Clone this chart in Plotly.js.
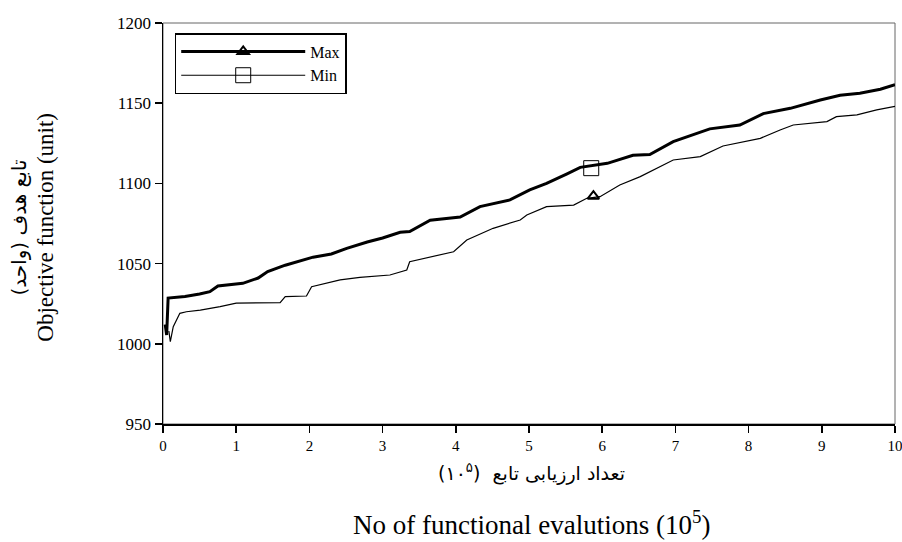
<!DOCTYPE html>
<html>
<head>
<meta charset="utf-8">
<script src="https://cdn.plot.ly/plotly-3.0.1.min.js"></script>
<style>html,body{margin:0;padding:0;background:#fff}#chart{width:902px;height:542px}</style>
</head>
<body>
<div id="chart"></div>
<script>
var maxX = [0.03, 0.05, 0.07, 0.3, 0.5, 0.64, 0.75, 1.09, 1.3, 1.43, 1.67, 2.05, 2.3, 2.51, 2.79, 3.0, 3.24, 3.37, 3.65, 4.06, 4.33, 4.74, 5.01, 5.24, 5.52, 5.70, 6.07, 6.42, 6.65, 6.97, 7.47, 7.88, 8.2, 8.57, 8.98, 9.25, 9.52, 9.8, 10];
var maxY = [1012, 1005.5, 1028.5, 1029.5, 1031, 1032.5, 1036, 1037.7, 1041, 1045, 1049, 1054, 1056, 1059.5, 1063.5, 1066, 1069.5, 1070, 1077, 1079, 1085.5, 1089.7, 1096, 1100, 1106, 1110, 1112.5, 1117.5, 1118, 1126, 1134, 1136.4, 1143.5, 1146.8, 1152, 1155, 1156.2, 1158.7, 1161.5];
var minX = [0.08, 0.1, 0.14, 0.23, 0.32, 0.51, 0.78, 1.0, 1.6, 1.67, 1.96, 2.03, 2.42, 2.69, 3.1, 3.33, 3.37, 3.65, 3.97, 4.15, 4.51, 4.88, 4.97, 5.24, 5.61, 5.79, 5.97, 6.24, 6.52, 6.97, 7.34, 7.65, 8.16, 8.43, 8.61, 9.07, 9.2, 9.48, 9.75, 10];
var minY = [1008, 1001.3, 1010.7, 1019, 1020, 1021, 1023.2, 1025.3, 1025.7, 1029.4, 1029.8, 1035.6, 1039.8, 1041.4, 1042.9, 1046, 1051.2, 1054.3, 1057.4, 1064.7, 1072, 1077.2, 1080.3, 1085.5, 1086.5, 1090.7, 1091.7, 1099, 1104.2, 1114.6, 1116.7, 1123.3, 1128.1, 1133.3, 1136.4, 1138.5, 1141.6, 1142.7, 1145.8, 1148];
// single marker positions as drawn in the figure
var maxMarkerX = [5.88];
var maxMarkerY = [1092];
var minMarkerX = [5.85];
var minMarkerY = [1109.5];
var seriesNames = ['Max', 'Min'];
var xTicks = [0,1,2,3,4,5,6,7,8,9,10];
var yTicks = [950,1000,1050,1100,1150,1200];
var xTitleFa = 'تعداد ارزیابی تابع  (۱۰<sup>۵</sup>)';
var xTitleEn = 'No of functional evalutions (10<sup>5</sup>)';
var yTitleFa = 'تابع هدف (واحد)';
var yTitleEn = 'Objective function (unit)';

var serif = 'Liberation Serif, Times New Roman, serif';
var arabic = 'DejaVu Sans, Noto Sans, sans-serif';
var traces = [
  {x: maxX, y: maxY, mode: 'lines', line: {color: '#000', width: 3}, showlegend: false, hoverinfo: 'skip'},
  {x: minX, y: minY, mode: 'lines', line: {color: '#000', width: 1.2}, showlegend: false, hoverinfo: 'skip'},
  {x: maxMarkerX, y: maxMarkerY, name: seriesNames[0], mode: 'lines+markers',
   line: {color: '#000', width: 3},
   marker: {symbol: 'triangle-up-open', size: 10, color: '#000', line: {width: 2, color: '#000'}}},
  {x: minMarkerX, y: minMarkerY, name: seriesNames[1], mode: 'lines+markers',
   line: {color: '#000', width: 1.2},
   marker: {symbol: 'square-open', size: 15, color: '#000', line: {width: 1, color: '#000'}}}
];

var layout = {
  width: 902, height: 542,
  margin: {l: 163, r: 7, t: 23, b: 118},
  paper_bgcolor: '#fff', plot_bgcolor: '#fff',
  font: {family: serif, color: '#000', size: 16},
  showlegend: true,
  legend: {x: 0.016, y: 0.975, xanchor: 'left', yanchor: 'top',
    bgcolor: '#fff', bordercolor: '#000', borderwidth: 1.5,
    font: {family: serif, size: 16, color: '#000'}, itemwidth: 124, tracegroupgap: 0},
  xaxis: {range: [0, 10], tickvals: xTicks, ticktext: xTicks.map(String),
    showgrid: false, zeroline: false, showline: true, linecolor: '#000', linewidth: 1.5,
    ticks: 'outside', ticklen: 7, tickwidth: 1.5, tickcolor: '#000',
    ticklabeloverflow: 'allow',
    tickfont: {family: serif, size: 15}},
  yaxis: {range: [950, 1200], tickvals: yTicks, ticktext: yTicks.map(String),
    showgrid: false, zeroline: false, showline: true, linecolor: '#000', linewidth: 1.5,
    ticks: 'outside', ticklen: 7, tickwidth: 1.5, tickcolor: '#000',
    tickfont: {family: serif, size: 17}},
  annotations: [
    {text: xTitleFa, xref: 'paper', yref: 'paper', x: 0.503, y: -0.12, xanchor: 'center', yanchor: 'middle',
     showarrow: false, font: {family: arabic, size: 19, color: '#000'}},
    {text: xTitleEn, xref: 'paper', yref: 'paper', x: 0.503, y: -0.247, xanchor: 'center', yanchor: 'middle',
     showarrow: false, font: {family: serif, size: 27, color: '#000'}},
    {text: yTitleFa, xref: 'paper', yref: 'paper', x: -0.198, y: 0.49, xanchor: 'center', yanchor: 'middle',
     textangle: -90, showarrow: false, font: {family: arabic, size: 20, color: '#000'}},
    {text: yTitleEn, xref: 'paper', yref: 'paper', x: -0.161, y: 0.49, xanchor: 'center', yanchor: 'middle',
     textangle: -90, showarrow: false, font: {family: serif, size: 23, color: '#000'}}
  ],
  shapes: [{type: 'rect', xref: 'paper', yref: 'paper', x0: 0, x1: 1, y0: 0, y1: 1,
    line: {color: '#666', width: 1}, layer: 'below'}]
};
Plotly.newPlot('chart', traces, layout, {displayModeBar: false, staticPlot: true});
</script>
</body>
</html>
